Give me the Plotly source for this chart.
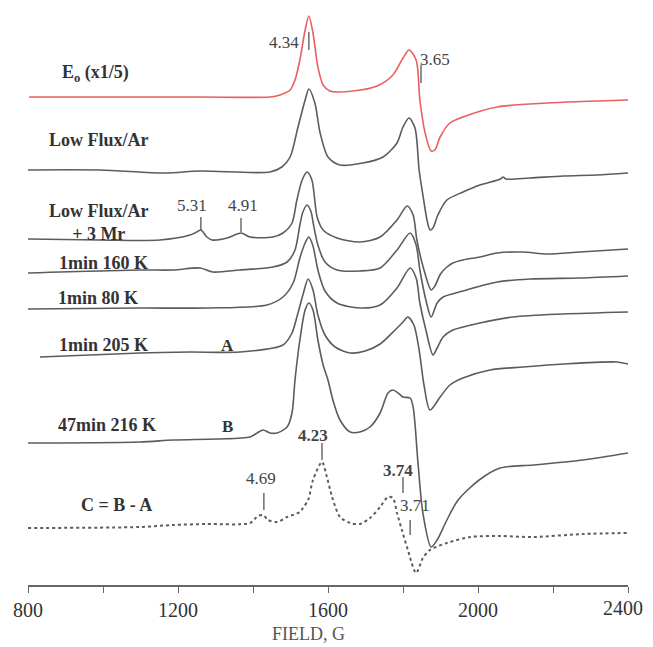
import plotly.graph_objects as go

# ---------------- data ----------------
# field in gauss, signal in arbitrary units relative to each trace's baseline
field_E0 = [803, 992, 1259, 1445, 1472, 1499, 1512, 1525, 1539, 1549, 1560, 1573, 1587, 1605,
            1667, 1731, 1773, 1800, 1816, 1835, 1845, 1859, 1875, 1885, 1899, 1925, 1960, 2051, 2184, 2400]
sig_E0 = [0, 0, 0, 0, 2, 7, 17, 37, 67, 81, 64, 30, 12, 6,
          6, 11, 22, 39, 47, 37, -3, -36, -54, -53, -40, -26, -20, -10, -6, -3]

field_LF = [800, 992, 1165, 1259, 1445, 1477, 1499, 1520, 1539, 1549, 1565, 1579, 1600, 1632, 1693,
            1747, 1784, 1800, 1816, 1832, 1843, 1853, 1864, 1872, 1880, 1893, 1917, 1960, 2005,
            2060, 2067, 2075, 2139, 2227, 2317, 2400]
sig_LF = [0, 0, -3, -1, -2, 3, 13, 43, 70, 81, 67, 37, 13, 5, 7,
          13, 27, 43, 52, 42, 0, -25, -50, -60, -58, -45, -30, -22, -15,
          -9, -7, -9, -8, -6, -5, -3]

field_MR = [800, 992, 1152, 1232, 1245, 1261, 1277, 1291, 1331, 1368, 1392, 1453, 1480, 1504, 1517,
            1531, 1544, 1557, 1571, 1587, 1624, 1685, 1739, 1784, 1811, 1827, 1837, 1856, 1875,
            1885, 1900, 1917, 1933, 1960, 2005, 2051, 2120, 2184, 2272, 2400]
sig_MR = [1, 0, 0, 5, 7, 10, 3, 0, 2, 7, 3, 3, 7, 17, 40,
          60, 68, 60, 23, 10, 2, -2, 3, 20, 34, 25, 0, -30, -50,
          -46, -34, -27, -23, -20, -17, -13, -12, -14, -12, -9]

field_160 = [800, 1099, 1187, 1259, 1293, 1365, 1453, 1491, 1512, 1525, 1533, 1544, 1555, 1560, 1573,
             1592, 1624, 1685, 1739, 1784, 1819, 1835, 1845, 1861, 1875, 1891, 1907, 1960, 2051,
             2139, 2272, 2400]
sig_160 = [-1, 2, 2, 4, 0, 2, 5, 10, 22, 47, 60, 67, 60, 50, 27,
           10, 2, 1, 4, 22, 39, 27, 2, -28, -45, -31, -25, -19, -10,
           -7, -6, -4]

field_80 = [800, 1099, 1277, 1437, 1480, 1507, 1525, 1539, 1549, 1560, 1573, 1592, 1624, 1685, 1739,
            1784, 1819, 1835, 1845, 1861, 1880, 1891, 1907, 1933, 2005, 2093, 2227, 2400]
sig_80 = [-1, 0, 0, 3, 11, 25, 50, 65, 71, 62, 38, 17, 5, 0, 3,
          20, 40, 30, 5, -22, -47, -40, -29, -22, -15, -9, -6, -4]

field_205 = [832, 1099, 1232, 1365, 1480, 1504, 1517, 1533, 1547, 1560, 1573, 1592, 1619, 1659, 1699,
             1739, 1779, 1800, 1813, 1829, 1843, 1856, 1872, 1899, 1925, 1960, 2032, 2120, 2227,
             2371, 2400]
sig_205 = [-5, -1, 0, 0, 7, 19, 35, 57, 73, 62, 37, 17, 5, -1, 1,
           8, 22, 30, 35, 27, 2, -33, -58, -45, -33, -26, -18, -15, -12,
           -10, -12]

field_216 = [800, 1099, 1187, 1304, 1392, 1411, 1427, 1445, 1464, 1491, 1504, 1512, 1525, 1539, 1549,
             1560, 1573, 1587, 1600, 1613, 1632, 1659, 1685, 1712, 1739, 1760, 1773, 1787, 1800,
             1819, 1827, 1840, 1853, 1875, 1891, 1917, 1947, 2003, 2059, 2147, 2280, 2400]
sig_216 = [-3, -2, 0, 1, 3, 7, 10, 7, 7, 13, 27, 60, 100, 130, 137,
           130, 100, 75, 60, 40, 20, 8, 8, 13, 27, 47, 50, 47, 43,
           42, 33, -23, -73, -107, -100, -80, -60, -40, -28, -25, -20, -13]

field_C = [800, 1099, 1187, 1277, 1392, 1413, 1427, 1440, 1464, 1491, 1525, 1533, 1547, 1560, 1584,
           1597, 1611, 1632, 1659, 1685, 1712, 1739, 1760, 1773, 1784, 1797, 1813, 1835, 1853,
           1872, 1917, 1979, 2059, 2147, 2280, 2400]
sig_C = [0, 1, 3, 4, 5, 12, 13, 8, 6, 11, 16, 20, 28, 48, 66,
         51, 31, 11, 5, 4, 10, 21, 31, 30, 15, -2, -22, -45, -30,
         -22, -15, -9, -8, -9, -6, -5]

trace_labels = ["E<sub>o</sub> (x1/5)", "Low Flux/Ar", "Low Flux/Ar<br>+ 3 Mr", "1min 160 K",
                "1min 80 K", "1min 205 K", "47min 216 K", "C = B - A"]
offsets = [488, 415, 345, 313, 277, 233, 145, 57]
label_x = [981, 989, 989, 1000, 987, 1000, 1011, 1037]
label_y = [512, 445, 363, 322, 287, 240, 160, 80]

# g-value markers: text, text position, tick field, tick y range
g_text = ["4.34", "3.65", "5.31", "4.91", "4.69", "<b>4.23</b>", "<b>3.74</b>", "3.71"]
g_text_x = [1483, 1885, 1237, 1373, 1421, 1560, 1787, 1832]
g_text_y = [543, 526, 380, 380, 107, 150, 115, 80]
g_tick_x = [1549, 1848, 1261, 1368, 1429, 1584, 1800, 1819]
g_tick_y0 = [535, 502, 355, 353, 75, 125, 92, 50]
g_tick_y1 = [553, 520, 368, 367, 92, 142, 108, 65]

letters = ["A", "B"]
letter_x = [1333, 1331]
letter_y = [240, 159]

x_ticks = [800, 1000, 1200, 1400, 1600, 1800, 2000, 2200, 2400]
x_tick_text = ["800", "", "1200", "", "1600", "", "2000", "", ""]
last_tick_label = "2400"

# ---------------- figure ----------------
series = [(field_E0, sig_E0), (field_LF, sig_LF), (field_MR, sig_MR), (field_160, sig_160),
          (field_80, sig_80), (field_205, sig_205), (field_216, sig_216), (field_C, sig_C)]
colors = ["#e95f5f"] + ["#5c5c5c"] * 7
dashes = ["solid"] * 7 + ["dot"]

fig = go.Figure()
for (fx, sy), off, col, dsh in zip(series, offsets, colors, dashes):
    fig.add_trace(go.Scatter(
        x=fx, y=[v + off for v in sy], mode="lines",
        line=dict(color=col, width=1.6 if dsh == "solid" else 2, dash=dsh,
                  shape="spline", smoothing=0.8),
        hoverinfo="skip", showlegend=False))

serif = "Liberation Serif, Times New Roman, serif"
for t, x, y in zip(trace_labels, label_x, label_y):
    fig.add_annotation(x=x, y=y, text="<b>" + t + "</b>", showarrow=False,
                       font=dict(family=serif, size=18, color="#333333"),
                       xanchor="center", yanchor="middle")
for t, x, y in zip(letters, letter_x, letter_y):
    fig.add_annotation(x=x, y=y, text="<b>" + t + "</b>", showarrow=False,
                       font=dict(family=serif, size=17, color="#333333"),
                       xanchor="center", yanchor="middle")
for t, x, y, tx, y0, y1 in zip(g_text, g_text_x, g_text_y, g_tick_x, g_tick_y0, g_tick_y1):
    fig.add_annotation(x=x, y=y, text=t, showarrow=False,
                       font=dict(family=serif, size=17, color="#444444"),
                       xanchor="center", yanchor="middle")
    fig.add_shape(type="line", x0=tx, x1=tx, y0=y0, y1=y1,
                  line=dict(color="#555555", width=1.3))

# last tick label kept inside the visible window
fig.add_annotation(x=x_ticks[-1], xref="x", y=-0.04, yref="paper", text=last_tick_label,
                   showarrow=False, xanchor="right", yanchor="middle", xshift=17,
                   font=dict(family=serif, size=20, color="#333333"))

fig.add_annotation(x=0.467, xref="paper", y=-0.085, yref="paper", text="FIELD, G",
                   showarrow=False, font=dict(family=serif, size=18, color="#555555"),
                   xanchor="center", yanchor="middle")

# the page body adds an 8 px margin, so the figure is shifted by it
fig.update_layout(
    width=645, height=639,
    margin=dict(l=20, r=25, t=0, b=62, autoexpand=False),
    paper_bgcolor="white", plot_bgcolor="white",
    xaxis=dict(range=[800, 2400], showgrid=False, zeroline=False, showline=True,
               automargin=False,
               linecolor="#666666", linewidth=1.5, ticks="outside", ticklen=6,
               tickcolor="#666666", tickwidth=1.3, tickvals=x_ticks, ticktext=x_tick_text,
               tickfont=dict(family=serif, size=20, color="#333333")),
    yaxis=dict(range=[0, 577], visible=False, fixedrange=True, automargin=False),
)

fig.write_html("out.html")
